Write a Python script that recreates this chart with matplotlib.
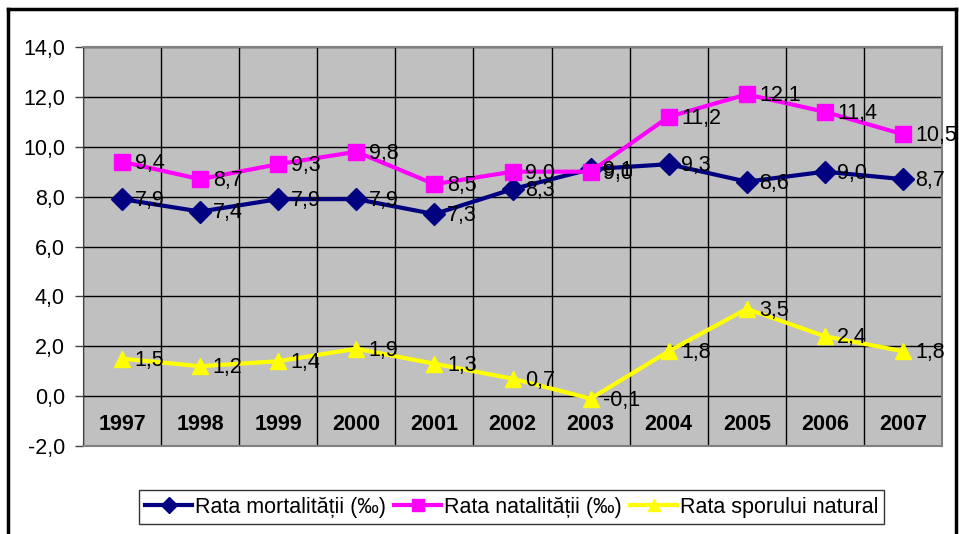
import matplotlib
matplotlib.use("Agg")
import matplotlib.pyplot as plt
from matplotlib.lines import Line2D
import numpy as np

years = ["1997", "1998", "1999", "2000", "2001", "2002", "2003", "2004", "2005", "2006", "2007"]
mortalitate = [7.9, 7.4, 7.9, 7.9, 7.3, 8.3, 9.1, 9.3, 8.6, 9.0, 8.7]
natalitate = [9.4, 8.7, 9.3, 9.8, 8.5, 9.0, 9.0, 11.2, 12.1, 11.4, 10.5]
spor = [1.5, 1.2, 1.4, 1.9, 1.3, 0.7, -0.1, 1.8, 3.5, 2.4, 1.8]
yticks = [-2, 0, 2, 4, 6, 8, 10, 12, 14]

plt.rcParams['font.family'] = ['Liberation Sans', 'DejaVu Sans']
FS = 15.5

fig = plt.figure(figsize=(9.59, 5.34), dpi=100)
ax = fig.add_axes([83/959, 1-446/534, 859/959, (446-47)/534])
ax.set_facecolor('#C0C0C0')

x = np.arange(len(years))
series = [
    (mortalitate, '#000080', 'D', 11, 'Rata mortalității (‰)'),
    (natalitate, '#FF00FF', 's', 11.5, 'Rata natalității (‰)'),
    (spor, '#FFFF00', '^', 12, 'Rata sporului natural'),
]
handles = []
for vals, col, mk, ms, lab in series:
    h, = ax.plot(x, vals, color=col, lw=3, marker=mk, markersize=ms,
                 markeredgecolor=col, label=lab, zorder=3)
    handles.append(h)
    for xi, v in zip(x, vals):
        ax.annotate(f"{v:.1f}".replace('.', ','), (xi, v), xytext=(9, -1),
                    textcoords='offset points', va='center', ha='left',
                    fontsize=FS, color='black', zorder=4)

ax.set_xlim(-0.5, len(years) - 0.5)
ax.set_ylim(-2, 14)
ax.set_yticks(yticks)
ax.set_yticklabels([f"{t:.1f}".replace('.', ',') for t in yticks], fontsize=FS)
ax.set_xticks([])
ax.set_xticks(np.arange(len(years) + 1) - 0.5, minor=True)
ax.tick_params(axis='x', which='minor', length=0)
ax.tick_params(axis='y', length=6, width=1, color='#404040', direction='out', pad=7)
ax.grid(True, axis='y', which='major', color='black', lw=1, zorder=1)
ax.grid(True, axis='x', which='minor', color='black', lw=1, zorder=1)
ax.set_axisbelow(True)

for xi, yr in zip(x, years):
    ax.text(xi, -1.15, yr, ha='center', va='center', fontsize=FS, fontweight='bold')

for side in ['top', 'right', 'bottom']:
    ax.spines[side].set_color('#808080')
    ax.spines[side].set_linewidth(1.5)
ax.spines['left'].set_color('#404040')

leg = fig.legend(handles=handles, loc='center', bbox_to_anchor=(511.5/959, 1-507/534),
                 ncol=3, frameon=True, fontsize=FS, handlelength=2.2,
                 handletextpad=0.1, columnspacing=0.4, borderpad=0.3,
                 fancybox=False, edgecolor='black', markerscale=0.75)
leg.get_frame().set_linewidth(1)

# outer chart frame
fig.add_artist(Line2D([8/959, 8/959], [0, 1-9/534], color='black', lw=2.5, transform=fig.transFigure))
fig.add_artist(Line2D([8/959, 956/959], [1-9/534, 1-9/534], color='black', lw=2.5, transform=fig.transFigure))
fig.add_artist(Line2D([956/959, 956/959], [0, 1-9/534], color='black', lw=2.5, transform=fig.transFigure))

fig.savefig('out.png', dpi=100)
